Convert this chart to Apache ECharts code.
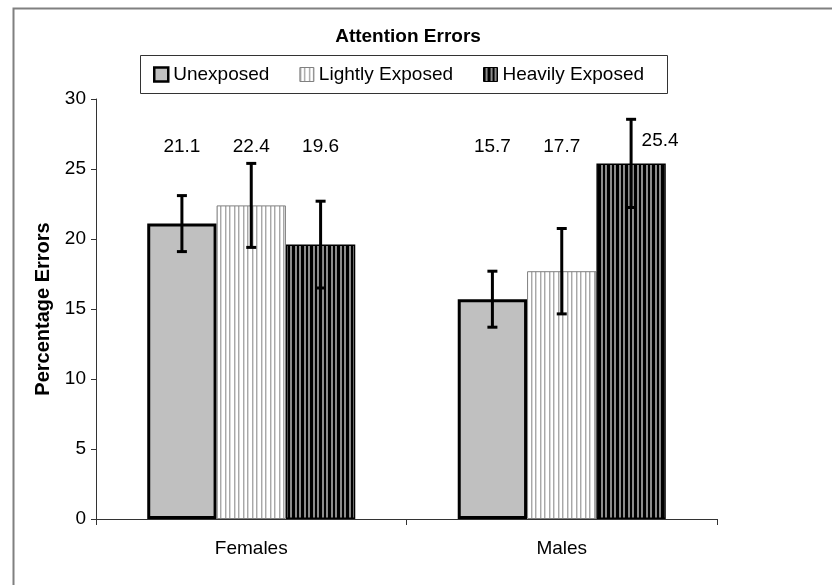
<!DOCTYPE html>
<html>
<head>
<meta charset="utf-8">
<script src="https://cdn.jsdelivr.net/npm/echarts@6/dist/echarts.min.js"></script>
<style>html,body{margin:0;padding:0;background:#fff}#main{width:832px;height:585px}</style>
</head>
<body>
<div id="main"></div>
<script>
// ---- data ----
const chartTitle = 'Attention Errors';
const yAxisTitle = 'Percentage Errors';
const categories = ['Females', 'Males'];
const seriesNames = ['Unexposed', 'Lightly Exposed', 'Heavily Exposed'];
const unexposed = [21.1, 15.7];
const lightlyExposed = [22.4, 17.7];
const heavilyExposed = [19.6, 25.4];
const unexposedErr = [2.0, 2.0];
const lightlyErr = [3.0, 3.05];
const heavilyErr = [3.1, 3.15];
const yTicks = [0, 5, 10, 15, 20, 25, 30];

// ---- styles ----
const FONT = '"Liberation Sans", Arial, sans-serif';
const FS = 19;
const GAP = 0.33;
const LABEL_LEVEL = 26.6;

function stripePattern(cols) {
  const c = document.createElement('canvas');
  c.width = cols.length; c.height = 4;
  const ctx = c.getContext('2d');
  cols.forEach((col, i) => { ctx.fillStyle = col; ctx.fillRect(i, 0, 1, 4); });
  return { image: c, repeat: 'repeat' };
}
const lightPat = stripePattern(['#a8a8a8', '#d8d8d8', '#ffffff', '#ffffff', '#a8a8a8', '#d8d8d8', '#ffffff', '#ffffff', '#ffffff']);
const heavyPat = stripePattern(['#000000', '#000000', '#8c8c8c', '#8c8c8c', '#000000', '#000000', '#000000', '#8c8c8c', '#8c8c8c']);

const barStyles = [
  { color: '#c0c0c0', borderColor: '#000000', borderWidth: 3 },
  { color: lightPat, borderColor: '#808080', borderWidth: 1 },
  { color: heavyPat, borderColor: '#000000', borderWidth: 1.5 }
];
const values = [unexposed, lightlyExposed, heavilyExposed];
const errs = [unexposedErr, lightlyErr, heavilyErr];

const barSeries = values.map((vals, si) => ({
  type: 'bar',
  name: seriesNames[si],
  data: vals,
  barGap: '0%',
  barCategoryGap: (GAP * 100) + '%',
  itemStyle: barStyles[si],
  z: 2
}));

const errSeries = values.map((vals, si) => ({
  type: 'custom',
  name: seriesNames[si] + ' error',
  data: vals.map((v, i) => [i, v, errs[si][i]]),
  encode: { x: 0, y: 1 },
  z: 5,
  silent: true,
  renderItem: function (params, api) {
    const ci = api.value(0), v = api.value(1), e = api.value(2);
    const bandW = api.size([1, 0])[0];
    const barW = bandW * (1 - GAP) / 3;
    const base = api.coord([ci, v]);
    const x = base[0] + (si - 1) * barW;
    const top = api.coord([ci, v + e])[1];
    const bot = api.coord([ci, v - e])[1];
    const cap = 5;
    const ls = { stroke: '#000', lineWidth: 3 };
    let lx = x, ly = api.coord([ci, LABEL_LEVEL])[1];
    if (v + e > LABEL_LEVEL - 1) { lx = x + 29; ly = ly - 6; }
    return {
      type: 'group',
      children: [
        { type: 'line', shape: { x1: x, y1: top, x2: x, y2: bot }, style: ls },
        { type: 'line', shape: { x1: x - cap, y1: top, x2: x + cap, y2: top }, style: ls },
        { type: 'line', shape: { x1: x - cap, y1: bot, x2: x + cap, y2: bot }, style: ls },
        { type: 'text', x: lx, y: ly, style: { text: v.toFixed(1), fill: '#000', font: FS + 'px ' + FONT, align: 'center', verticalAlign: 'middle' } }
      ]
    };
  }
}));

const chart = echarts.init(document.getElementById('main'), null, { renderer: 'canvas' });
chart.setOption({
  animation: false,
  backgroundColor: '#ffffff',
  title: {
    text: chartTitle, left: 408, top: 27, textAlign: 'center', padding: 0,
    textStyle: { fontFamily: FONT, fontSize: 19, fontWeight: 'bold', color: '#000' }
  },
  legend: {
    data: seriesNames.map((n, i) => ({ name: n, itemStyle: { borderWidth: i === 0 ? 2.5 : 1 } })),
    left: 153, top: 65, padding: 0,
    itemWidth: 14, itemHeight: 14, itemGap: 30,
    icon: 'rect',
    textStyle: { fontFamily: FONT, fontSize: FS, color: '#000' },
    selectedMode: false
  },
  graphic: [
    { type: 'rect', left: 11, top: 6, shape: { width: 900, height: 700 }, style: { fill: 'none', stroke: '#808080', lineWidth: 2 }, silent: true, z: -1 },
    { type: 'rect', left: 138, top: 53, shape: { width: 527, height: 38 }, style: { fill: 'none', stroke: '#333', lineWidth: 1 }, silent: true, z: -1 }
  ],
  grid: { left: 96, right: 115, top: 99, bottom: 66, containLabel: false },
  xAxis: {
    type: 'category', data: categories,
    axisLine: { lineStyle: { color: '#333', width: 1 } },
    axisTick: { show: true, length: 6, lineStyle: { color: '#333' } },
    axisLabel: { margin: 20, fontFamily: FONT, fontSize: FS, color: '#000' }
  },
  yAxis: {
    type: 'value', min: yTicks[0], max: yTicks[yTicks.length - 1], interval: yTicks[1] - yTicks[0],
    name: yAxisTitle, nameLocation: 'middle', nameRotate: 90, nameGap: 41,
    nameTextStyle: { fontFamily: FONT, fontSize: 20, fontWeight: 'bold', color: '#000' },
    axisLine: { show: true, lineStyle: { color: '#333', width: 1 } },
    axisTick: { show: true, length: 5, lineStyle: { color: '#333' } },
    axisLabel: { margin: 10, fontFamily: FONT, fontSize: FS, color: '#000' },
    splitLine: { show: false }
  },
  series: barSeries.concat(errSeries)
});
</script>
</body>
</html>
